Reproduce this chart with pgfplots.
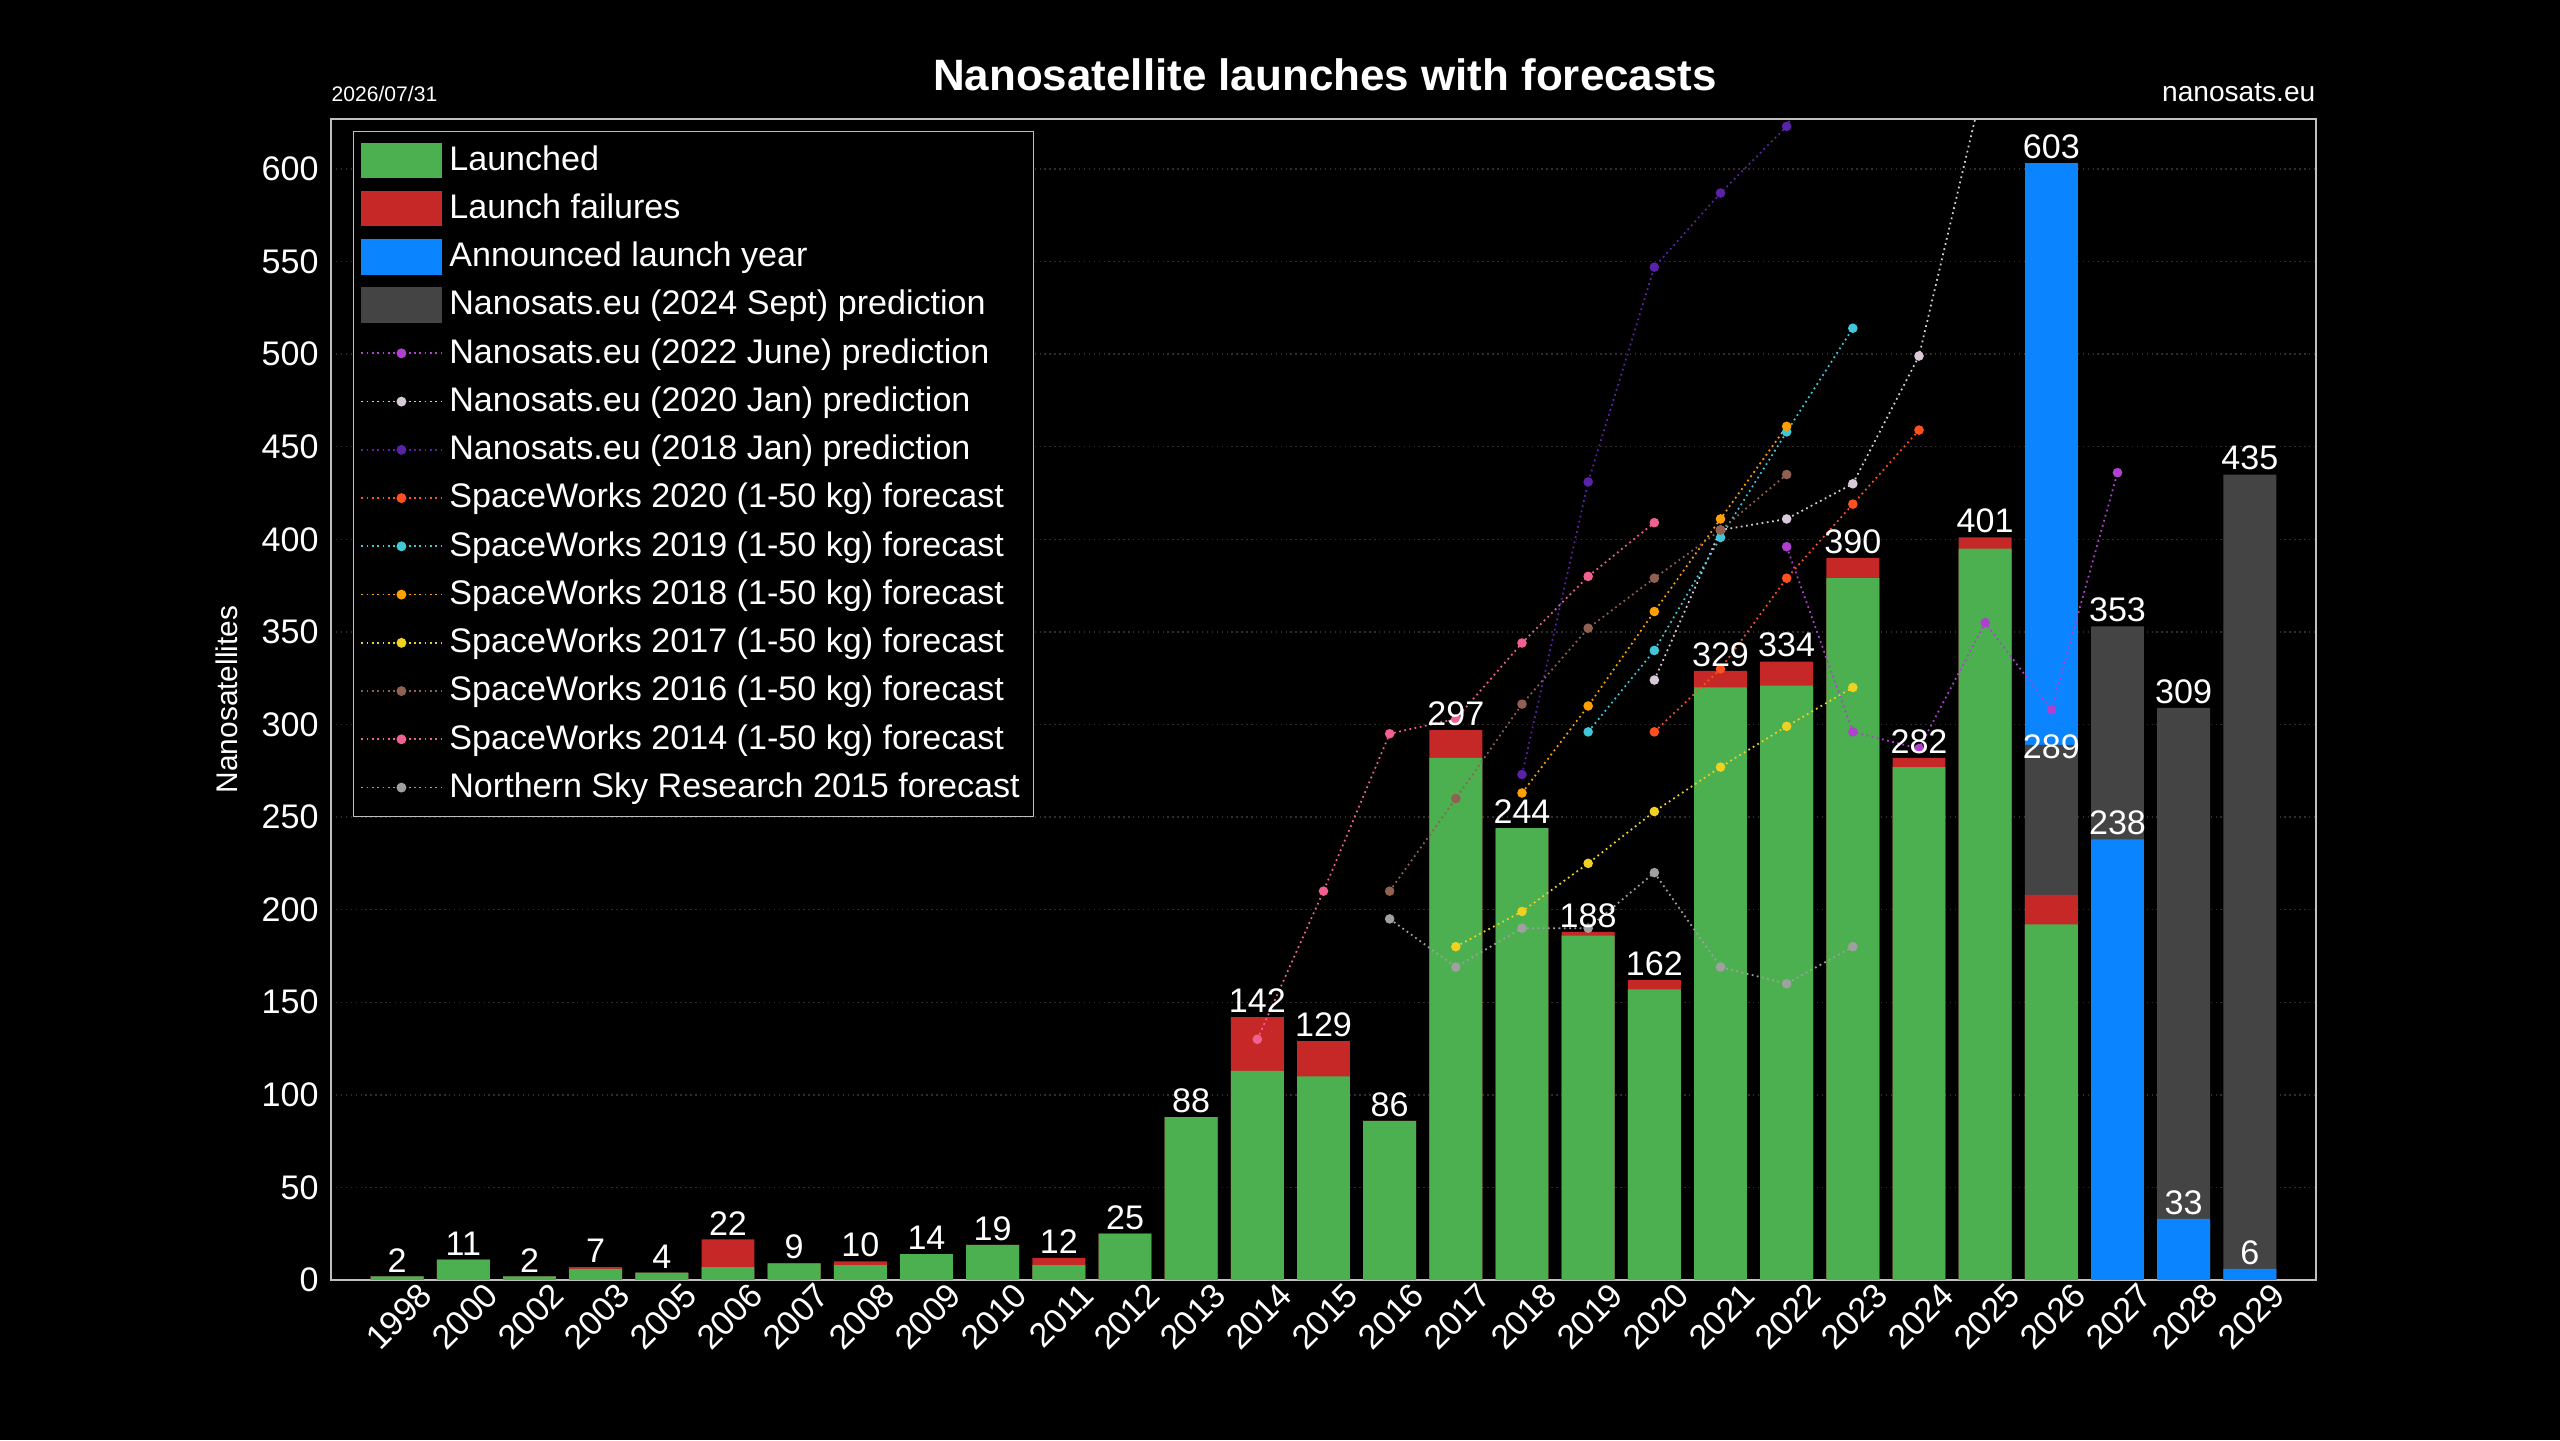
\documentclass[border=0pt]{standalone}
\usepackage{pgfplots}
\pgfplotsset{compat=1.18}
\usepackage{pgfplotstable}
\usepackage{fontspec}
\setmainfont{Liberation Sans}
\definecolor{cgreen}{HTML}{4CAF50}
\definecolor{cred}{HTML}{C62828}
\definecolor{cblue}{HTML}{0A84FF}
\definecolor{cgrey}{HTML}{444444}
\definecolor{c22}{HTML}{B040D0}
\definecolor{c20}{HTML}{D8C8D8}
\definecolor{c18}{HTML}{5A22A8}
\definecolor{s20}{HTML}{FF5020}
\definecolor{s19}{HTML}{40C8D8}
\definecolor{s18}{HTML}{FFA000}
\definecolor{s17}{HTML}{F0D020}
\definecolor{s16}{HTML}{906050}
\definecolor{s14}{HTML}{F06090}
\definecolor{nsr}{HTML}{A0A0A0}
\pgfplotstableread{
x g t
0 2 2
1 11 11
2 2 2
3 6 7
4 4 4
5 7 22
6 9 9
7 8 10
8 14 14
9 19 19
10 8 12
11 25 25
12 88 88
13 113 142
14 110 129
15 86 86
16 282 297
17 244 244
18 186 188
19 157 162
20 320 329
21 321 334
22 379 390
23 277 282
24 395 401
25 192 208
}\launched
\pgfplotstableread{
x y l
0 2 2
1 11 11
2 2 2
3 7 7
4 4 4
5 22 22
6 9 9
7 10 10
8 14 14
9 19 19
10 12 12
11 25 25
12 88 88
13 142 142
14 129 129
15 86 86
16 297 297
17 244 244
18 188 188
19 162 162
20 329 329
21 334 334
22 390 390
23 282 282
24 401 401
25 603 603
25 279 289
26 353 353
26 238 238
27 309 309
27 33 33
28 435 435
28 6 6
}\labels
\pgfplotsset{barleg/.style={legend image code/.code={\fill[#1] (0cm,-0.17cm) rectangle (0.8cm,0.17cm);}}}
\pgfplotsset{lineleg/.style={legend image code/.code={\draw[#1,densely dotted,line width=0.5pt] (0cm,0cm) -- (0.8cm,0cm); \fill[#1] (0.4cm,0cm) circle (1.2pt);}}}
\begin{document}
\begin{tikzpicture}
\fill[black] (0,0) rectangle (25.6cm,14.4cm);
\node[white,font=\bfseries\fontsize{12.5}{14}\selectfont] at (13.25cm,13.65cm) {Nanosatellite launches with forecasts};
\node[white,anchor=south west,font=\fontsize{6}{7}\selectfont,inner sep=0] at (3.31cm,13.38cm) {2026/07/31};
\node[white,anchor=south east,font=\fontsize{8}{9}\selectfont,inner sep=0] at (23.16cm,13.38cm) {nanosats.eu};
\begin{axis}[
 at={(3.31cm,1.60cm)}, anchor=south west, scale only axis,
 width=19.85cm, height=11.61cm,
 xmin=-1, xmax=29, ymin=0, ymax=627,
 axis line style={white!75!black}, tick style={draw=none},
 xtick={0,...,28},
 xticklabels={1998,2000,2002,2003,2005,2006,2007,2008,2009,2010,2011,2012,2013,2014,2015,2016,2017,2018,2019,2020,2021,2022,2023,2024,2025,2026,2027,2028,2029},
 x tick label style={rotate=45,anchor=north east,inner sep=1pt,xshift=5pt,yshift=-3pt},
 ytick={0,50,...,600},
 ymajorgrids, grid style={densely dotted,white!18!black},
 ticklabel style={white,font=\fontsize{9.7}{11}\selectfont},
 /pgf/number format/assume math mode=true,
 ylabel={Nanosatellites}, ylabel style={white,font=\fontsize{8.5}{10}\selectfont},
 bar width=0.8, clip=true,
 legend cell align=left,
 legend style={at={(0.011,0.99)},anchor=north west,fill=black,draw=white!75!black,text=white,font=\fontsize{9.7}{11}\selectfont,row sep=1.2pt,inner sep=2pt},
]
\addlegendimage{barleg=cgreen}\addlegendentry{Launched}
\addlegendimage{barleg=cred}\addlegendentry{Launch failures}
\addlegendimage{barleg=cblue}\addlegendentry{Announced launch year}
\addlegendimage{barleg=cgrey}\addlegendentry{Nanosats.eu (2024 Sept) prediction}
\addlegendimage{lineleg=c22}\addlegendentry{Nanosats.eu (2022 June) prediction}
\addlegendimage{lineleg=c20}\addlegendentry{Nanosats.eu (2020 Jan) prediction}
\addlegendimage{lineleg=c18}\addlegendentry{Nanosats.eu (2018 Jan) prediction}
\addlegendimage{lineleg=s20}\addlegendentry{SpaceWorks 2020 (1-50 kg) forecast}
\addlegendimage{lineleg=s19}\addlegendentry{SpaceWorks 2019 (1-50 kg) forecast}
\addlegendimage{lineleg=s18}\addlegendentry{SpaceWorks 2018 (1-50 kg) forecast}
\addlegendimage{lineleg=s17}\addlegendentry{SpaceWorks 2017 (1-50 kg) forecast}
\addlegendimage{lineleg=s16}\addlegendentry{SpaceWorks 2016 (1-50 kg) forecast}
\addlegendimage{lineleg=s14}\addlegendentry{SpaceWorks 2014 (1-50 kg) forecast}
\addlegendimage{lineleg=nsr}\addlegendentry{Northern Sky Research 2015 forecast}
% bars
\addplot[ybar,fill=cblue,draw=none,forget plot] coordinates {(25,603)};
\addplot[ybar,fill=cgrey,draw=none,forget plot] coordinates {(25,289) (26,353) (27,309) (28,435)};
\addplot[ybar,fill=cblue,draw=none,forget plot] coordinates {(26,238) (27,33) (28,6)};
\addplot[ybar,fill=cred,draw=none,forget plot] table[x=x,y=t] {\launched};
\addplot[ybar,fill=cgreen,draw=none,forget plot] table[x=x,y=g] {\launched};
% lines
\tikzset{fl/.style={densely dotted,line width=0.5pt,mark=*,mark size=1.1pt,mark options={solid}}}
\addplot[fl,color=c22,forget plot] coordinates {(21,396)(22,296)(23,287)(24,355)(25,308)(26,436)};
\addplot[fl,color=c20,forget plot] coordinates {(19,324)(20,405)(21,411)(22,430)(23,499)(24,650)};
\addplot[fl,color=c18,forget plot] coordinates {(17,273)(18,431)(19,547)(20,587)(21,623)(22,700)};
\addplot[fl,color=s20,forget plot] coordinates {(19,296)(20,330)(21,379)(22,419)(23,459)};
\addplot[fl,color=s19,forget plot] coordinates {(18,296)(19,340)(20,401)(21,458)(22,514)};
\addplot[fl,color=s18,forget plot] coordinates {(17,263)(18,310)(19,361)(20,411)(21,461)};
\addplot[fl,color=s17,forget plot] coordinates {(16,180)(17,199)(18,225)(19,253)(20,277)(21,299)(22,320)};
\addplot[fl,color=s16,forget plot] coordinates {(15,210)(16,260)(17,311)(18,352)(19,379)(20,405)(21,435)};
\addplot[fl,color=s14,forget plot] coordinates {(13,130)(14,210)(15,295)(16,303)(17,344)(18,380)(19,409)};
\addplot[fl,color=nsr,forget plot] coordinates {(15,195)(16,169)(17,190)(18,190)(19,220)(20,169)(21,160)(22,180)};
% labels
\addplot[draw=none,mark=none,forget plot,nodes near coords,point meta=explicit symbolic,
 every node near coord/.style={white,anchor=south,inner sep=1pt,font=\fontsize{9.7}{11}\selectfont}]
 table[x=x,y=y,meta=l] {\labels};
\end{axis}
\end{tikzpicture}
\end{document}
